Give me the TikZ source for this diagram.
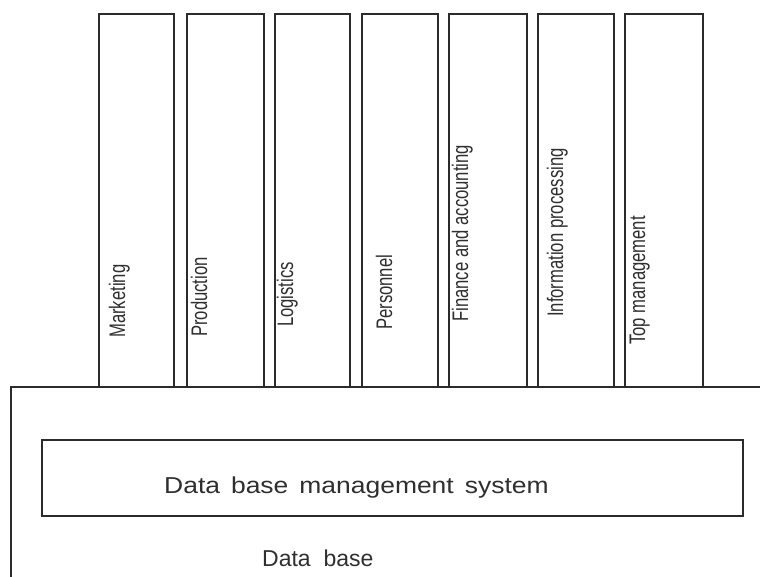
\documentclass[tikz,border=0pt]{standalone}
\usepackage{fontspec}
\setmainfont{Liberation Sans}
% narrow face for the upright column captions
\newfontfamily\colfont[FakeStretch=0.74]{Liberation Sans}
% wide, loosely spaced face for the data base captions
\newfontfamily\dbfont[FakeStretch=1.15,WordSpace=1.5]{Liberation Sans}
\newfontfamily\basefont[WordSpace=2]{Liberation Sans}
\definecolor{ink}{HTML}{2B2B2B}
\definecolor{inktext}{HTML}{2F2F2F}
\begin{document}
\begin{tikzpicture}[x=1pt,y=-1pt,
  line/.style={draw=ink, line width=1.6pt},
  column/.style={line, rectangle, inner sep=0pt, anchor=north west,
                 minimum height=373pt},
  collabel/.style={rotate=90, anchor=base west, inner sep=0pt,
                   font=\colfont\fontsize{22.5}{22.5}\selectfont, text=inktext},
  dbtext/.style={anchor=base west, inner sep=0pt, text=inktext}]
\useasboundingbox (0,0) rectangle (760,576);
\clip (0,0) rectangle (760,576);

% application columns standing on the data base
\node[column, minimum width=75pt] (c1) at (98,13) {};
\node[column, minimum width=77pt] (c2) at (186,13) {};
\node[column, minimum width=75pt] (c3) at (274,13) {};
\node[column, minimum width=76pt] (c4) at (361,13) {};
\node[column, minimum width=78pt] (c5) at (448,13) {};
\node[column, minimum width=76pt] (c6) at (537,13) {};
\node[column, minimum width=78pt] (c7) at (624,13) {};

\node[collabel] (l1) at (125,338) {Marketing};
\node[collabel] (l2) at (207,337) {Production};
\node[collabel] (l3) at (293,327) {Logistics};
\node[collabel] (l4) at (392,330) {Personnel};
\node[collabel] (l5) at (468,322) {Finance and accounting};
\node[collabel] (l6) at (563,317) {Information processing};
\node[collabel] (l7) at (645,345) {Top management};

% data base block, running off the right and bottom edges
\node[line, rectangle, inner sep=0pt, anchor=north west,
      minimum width=800pt, minimum height=240pt] (db) at (10,386) {};

% data base management system layer
\node[line, line width=2pt, rectangle, inner sep=0pt,
      minimum width=701pt, minimum height=76pt] (dbms) at (392.5,478) {};
\node[dbtext, font=\dbfont\fontsize{23}{23}\selectfont] (dbmslabel) at (164,493)
  {Data base management system};
\node[dbtext, font=\basefont\fontsize{23}{23}\selectfont] (dblabel) at (262,566)
  {Data base};
\end{tikzpicture}
\end{document}
